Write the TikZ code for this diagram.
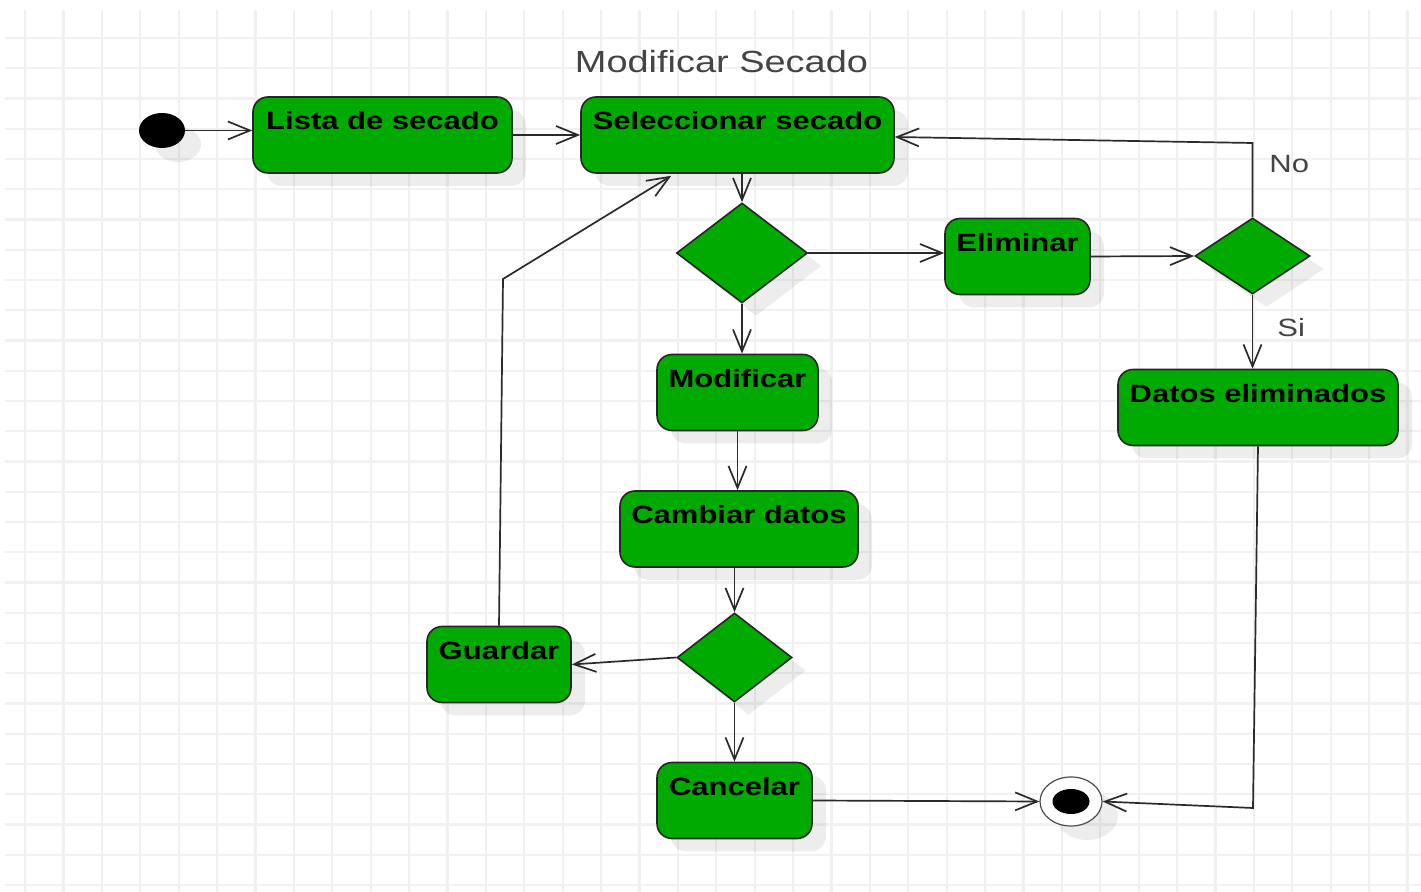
\documentclass[tikz,border=0pt]{standalone}
\usepackage{fontspec}
\setmainfont{Liberation Sans}
\newfontfamily\diafont[FakeStretch=1.24]{Liberation Sans}
\usetikzlibrary{shapes.geometric,arrows.meta,shadows}
\definecolor{actgreen}{HTML}{00AA00}
\definecolor{gridgray}{HTML}{F1F1F1}
\definecolor{edgegray}{HTML}{2A2A2A}
\definecolor{labelgray}{HTML}{444444}
\tikzset{
  boxshadow/.style={drop shadow={shadow xshift=7pt,shadow yshift=-6.5pt,fill=black,opacity=0.07}},
  action/.style={rectangle,rounded corners=7.5pt,fill=actgreen,draw=black!85,line width=0.8pt,
    inner sep=0pt,text height=16.5pt,text depth=21.5pt,align=center,
    font=\diafont\fontsize{12.5}{15}\selectfont\bfseries,boxshadow},
  decision/.style={diamond,fill=actgreen,draw=black!85,line width=0.8pt,inner sep=0pt,boxshadow},
  flow/.style={draw=edgegray,line width=0.85pt,-{Straight Barb[length=11pt,width=9pt]}},
  guard/.style={text=labelgray,font=\diafont\fontsize{12.5}{15}\selectfont,inner sep=0pt},
}
\begin{document}
\begin{tikzpicture}[x=0.5pt,y=-0.5pt]
\useasboundingbox (0,0) rectangle (1421,892);
\fill[white] (0,0) rectangle (1421,892);
% background grid
\foreach \k in {0,...,36} \draw[gridgray,line width=1.1pt] ({25+38.4*\k},10) -- ({25+38.4*\k},892);
\foreach \k in {0,...,28} \draw[gridgray,line width=1.1pt] (5,{38+30.25*\k}) -- (1421,{38+30.25*\k});

% title
\node[guard,font=\diafont\fontsize{15.3}{18}\selectfont,anchor=base] (title) at (721.5,73) {Modificar Secado};

% start and end
\node[ellipse,fill=black,minimum width=23pt,minimum height=17.5pt,inner sep=0pt,
  drop shadow={shadow xshift=8pt,shadow yshift=-7pt,fill=black,opacity=0.07}] (init) at (162,130.5) {};
\node[ellipse,fill=white,draw=black!70,line width=0.6pt,minimum width=31pt,minimum height=24.5pt,inner sep=0pt,
  drop shadow={shadow xshift=8pt,shadow yshift=-7pt,fill=black,opacity=0.07}] (fin) at (1071,801.5) {};
\node[ellipse,fill=black,minimum width=18.5pt,minimum height=12.5pt,inner sep=0pt] (findot) at (fin.center) {};

% actions
\node[action,minimum width=129.5pt,minimum height=38pt] (lista) at (382.5,135) {Lista de secado};
\node[action,minimum width=156.5pt,minimum height=38pt] (sel) at (737.5,135) {Seleccionar secado};
\node[action,minimum width=72.5pt,minimum height=38pt] (elim) at (1017.5,256.5) {Eliminar};
\node[action,minimum width=140pt,minimum height=38pt] (datos) at (1258,407.5) {Datos eliminados};
\node[action,minimum width=80.5pt,minimum height=38pt] (modif) at (737.5,392.5) {Modificar};
\node[action,minimum width=119pt,minimum height=38pt] (camb) at (739,529) {Cambiar datos};
\node[action,minimum width=72pt,minimum height=38pt] (guard) at (499,664.5) {Guardar};
\node[action,minimum width=77.5pt,minimum height=38pt] (cancel) at (734.5,800.5) {Cancelar};

% decisions
\node[decision,minimum width=65.5pt,minimum height=50pt] (d1) at (742,253) {};
\node[decision,minimum width=57.5pt,minimum height=38pt] (d2) at (1252.5,256) {};
\node[decision,minimum width=57.5pt,minimum height=44.5pt] (d3) at (734.5,657.5) {};

% bend points
\coordinate (nocorner) at (1252.5,143);
\coordinate (gbend) at (503,279);
\coordinate (fincorner) at (1253,808);

% flows
\draw[flow] (init.east) -- (lista.west |- init.east);
\draw[flow] (lista.east) -- (sel.west);
\draw[flow] (d1.north |- sel.south) -- (d1.north);
\draw[flow] (d1.east) -- (elim.west |- d1.east);
\draw[flow] (elim.east) -- (d2.west);
\draw[flow] (d2.north) -- (nocorner) -- ([yshift=-1pt]sel.east);
\draw[flow] (d2.south) -- (d2.south |- datos.north);
\draw[flow] (d1.south) -- (d1.south |- modif.north);
\draw[flow] (modif.south) -- (modif.south |- camb.north);
\draw[flow] (d3.north |- camb.south) -- (d3.north);
\draw[flow] (d3.west) -- (guard.east);
\draw[flow] (d3.south) -- (d3.south |- cancel.north);
\draw[flow] (guard.north) -- (gbend) -- ([xshift=45.5pt,yshift=-1pt]sel.south west);
\draw[flow] (cancel.east) -- (fin.west);
\draw[flow] (datos.south) -- (fincorner) -- (fin.east);

% guard labels
\node[guard,anchor=base west] (lblno) at (1269,173) {No};
\node[guard,anchor=base west] (lblsi) at (1277,337) {Si};
\end{tikzpicture}
\end{document}
